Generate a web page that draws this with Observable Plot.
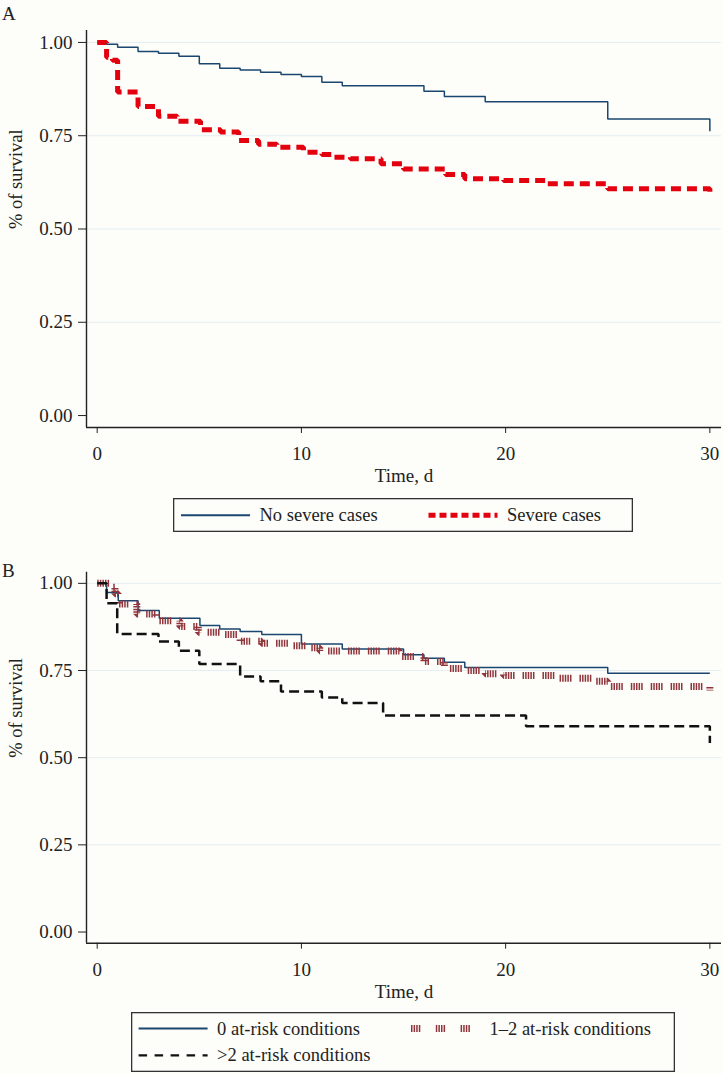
<!DOCTYPE html>
<html><head><meta charset="utf-8">
<script src="https://cdn.jsdelivr.net/npm/d3@7"></script>
<script src="https://cdn.jsdelivr.net/npm/@observablehq/plot@0.6"></script>
<style>
html,body{margin:0;padding:0;background:#fdfdf9;}
#root{position:relative;width:723px;height:1074px;background:#fdfdf9;font-family:"Liberation Serif",serif;color:#222;overflow:hidden;}
.abs{position:absolute;}
.plbl{position:absolute;font-size:19px;line-height:19px;}
</style></head><body><div id="root"></div>
<script>
// ---- data ----
const xTicks = [0, 10, 20, 30];
const yTicks = [0, 0.25, 0.5, 0.75, 1];
const gridTicks = [0.25, 0.5, 0.75, 1];

// Panel A
const tA_no = [0,0.46,1,2,3,4,5,6,7,8,9,10,11,12,16,17,19,25,30];
const sA_no = [1,0.995,0.987,0.976,0.971,0.963,0.943,0.931,0.926,0.920,0.914,0.909,0.893,0.884,0.869,0.855,0.841,0.795,0.762];
const tA_sev = [0,0.46,0.75,1,2,3,3.92,5.06,6.04,6.93,7.9,8.8,10.1,11,11.6,12.4,13.9,15,17.06,18,19.9,21.95,25,30];
const sA_sev = [1,0.96,0.952,0.867,0.828,0.802,0.789,0.766,0.760,0.737,0.727,0.719,0.706,0.700,0.6925,0.688,0.675,0.661,0.646,0.635,0.630,0.621,0.608,0.597];

// Panel B
const tB_0 = [0,0.46,1.03,2,3.04,5.03,6,7,8.06,10,12,15,16,17,18,25,30];
const sB_0 = [1,0.974,0.950,0.922,0.900,0.879,0.869,0.862,0.853,0.826,0.812,0.795,0.785,0.774,0.759,0.742,0.742];
const tB_12 = [0,0.6,0.87,1.03,1.94,2.9,4.05,4.95,6,7,8.05,9.6,10.2,10.9,14.8,16,17,18,19,19.9,22.5,24.4,25,30];
const sB_12 = [1,0.989,0.970,0.941,0.912,0.893,0.876,0.860,0.853,0.834,0.828,0.821,0.815,0.806,0.790,0.776,0.756,0.750,0.741,0.736,0.728,0.719,0.704,0.693];
const tB_2 = [0,0.46,0.98,3,4,5,7,8,9,11,12,14,21,30];
const sB_2 = [1,0.943,0.855,0.833,0.807,0.769,0.733,0.719,0.690,0.673,0.657,0.621,0.590,0.542];

const labelsA = ["No severe cases", "Severe cases"];
const labelsB = ["0 at-risk conditions", "1\u20132 at-risk conditions", ">2 at-risk conditions"];

// ---- styles ----
const xDomain = [-0.524, 30.57];
const yDomain = [-0.032, 1.032];
const C_NAVY = "#1a476f", C_RED = "#e3000f", C_MAROON = "#90353b", C_BLACK = "#111";
const DASH_RED = "10,6";
const DASH_BLACK = "10,5";
const DASH_MAROON = "1.5,1.1,1.5,1.1,1.5,1.1,1.5,1.1,1.5,8";
const FONT = "Liberation Serif";

const zip = (t, s) => t.map((d, i) => ({t: d, s: s[i]}));

function panel(series, height, marginTop, marginBottom, timeDy) {
  return Plot.plot({
    width: 723, height, marginLeft: 86, marginRight: 2, marginTop, marginBottom,
    style: {fontFamily: FONT, fontSize: "19px", color: "#222", background: "transparent", overflow: "visible"},
    x: {domain: xDomain, ticks: xTicks},
    y: {domain: yDomain, ticks: yTicks},
    marks: [
      Plot.ruleY(gridTicks, {stroke: "#e4eef2", strokeWidth: 1}),
      Plot.axisY({ticks: yTicks, tickFormat: d3.format(".2f"), tickSize: 8, tickPadding: 6, label: null, fontSize: 19}),
      Plot.axisX({ticks: xTicks, tickSize: 6, tickPadding: 13, label: null, fontSize: 19}),
      Plot.ruleX([xDomain[0]], {stroke: "#222", strokeWidth: 1.4}),
      Plot.ruleY([yDomain[0]], {stroke: "#222", strokeWidth: 1.4}),
      ...series.map(s => Plot.line(s.data, {x: "t", y: "s", curve: "step-after", stroke: s.stroke,
        strokeWidth: s.width, strokeDasharray: s.dash, strokeLinecap: "butt", strokeLinejoin: "miter"})),
      Plot.text(["% of survival"], {text: d => d, frameAnchor: "left", rotate: -90, dx: -70, fontSize: 18.5, fill: "#222"}),
      Plot.text(["Time, d"], {text: d => d, frameAnchor: "bottom", dy: timeDy, fontSize: 19, fill: "#222"})
    ]
  });
}

const root = document.getElementById("root");

function place(el, left, top) {
  const d = document.createElement("div");
  d.className = "abs"; d.style.left = left + "px"; d.style.top = top + "px";
  d.appendChild(el); root.appendChild(d); return d;
}

// Panel A
const svgA = panel([
  {data: zip(tA_no, sA_no), stroke: C_NAVY, width: 1.5, dash: null},
  {data: zip(tA_sev, sA_sev), stroke: C_RED, width: 5, dash: DASH_RED}
], 495, 30, 68, 54);
place(svgA, 0, 0);

// Panel B
const svgB = panel([
  {data: zip(tB_0, sB_0), stroke: C_NAVY, width: 1.5, dash: null},
  {data: zip(tB_12, sB_12), stroke: C_MAROON, width: 7, dash: DASH_MAROON},
  {data: zip(tB_2, sB_2), stroke: C_BLACK, width: 2.5, dash: DASH_BLACK}
], 470, 31.7, 67.3, 55);
place(svgB, 0, 540);

// panel letters
function letter(txt, top) {
  const s = document.createElement("div");
  s.className = "plbl"; s.style.left = "2px"; s.style.top = top + "px"; s.textContent = txt;
  root.appendChild(s);
}
letter("A", 4);
letter("B", 561);

// legends
const NS = "http://www.w3.org/2000/svg";
function legend(left, top, w, h, items) {
  const svg = document.createElementNS(NS, "svg");
  svg.setAttribute("width", w); svg.setAttribute("height", h);
  svg.setAttribute("font-family", FONT); svg.setAttribute("font-size", 18.5);
  svg.style.display = "block";
  const rect = document.createElementNS(NS, "rect");
  rect.setAttribute("x", 0.65); rect.setAttribute("y", 0.65);
  rect.setAttribute("width", w - 1.3); rect.setAttribute("height", h - 1.3);
  rect.setAttribute("fill", "#fdfdf9"); rect.setAttribute("stroke", "#333"); rect.setAttribute("stroke-width", 1.3);
  svg.appendChild(rect);
  for (const it of items) {
    const ln = document.createElementNS(NS, "line");
    ln.setAttribute("x1", it.x); ln.setAttribute("x2", it.x + 69);
    ln.setAttribute("y1", it.y); ln.setAttribute("y2", it.y);
    ln.setAttribute("stroke", it.stroke); ln.setAttribute("stroke-width", it.width);
    if (it.dash) ln.setAttribute("stroke-dasharray", it.dash);
    svg.appendChild(ln);
    const tx = document.createElementNS(NS, "text");
    tx.setAttribute("x", it.x + 78.5); tx.setAttribute("y", it.y);
    tx.setAttribute("dy", "0.33em"); tx.setAttribute("fill", "#222");
    tx.textContent = it.label;
    svg.appendChild(tx);
  }
  place(svg, left, top);
}
legend(172.7, 497.7, 460, 34, [
  {x: 8, y: 17.3, stroke: C_NAVY, width: 2, dash: null, label: labelsA[0]},
  {x: 255.5, y: 17.3, stroke: C_RED, width: 5, dash: "7,4", label: labelsA[1]}
]);
legend(130.7, 1011.7, 544, 60, [
  {x: 7.6, y: 16.6, stroke: C_NAVY, width: 2, dash: null, label: labelsB[0]},
  {x: 280, y: 16.6, stroke: C_MAROON, width: 7, dash: "1.5,1.1,1.5,1.1,1.5,1.1,1.5,15.5", label: labelsB[1]},
  {x: 7.6, y: 43.3, stroke: C_BLACK, width: 2.2, dash: "8.5,7.5", label: labelsB[2]}
]);
</script>
</body></html>
